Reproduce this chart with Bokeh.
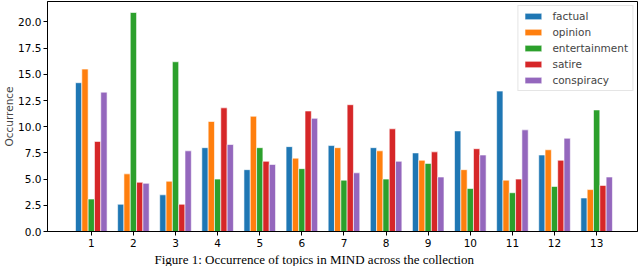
from bokeh.plotting import figure
from bokeh.models import FixedTicker, NumeralTickFormatter, Legend, LegendItem, Title, Range1d
from bokeh.embed import file_html
from bokeh.resources import INLINE

groups = [1, 2, 3, 4, 5, 6, 7, 8, 9, 10, 11, 12, 13]
series_names = ["factual", "opinion", "entertainment", "satire", "conspiracy"]
factual = [14.2, 2.6, 3.5, 8.0, 5.9, 8.1, 8.2, 8.0, 7.5, 9.6, 13.4, 7.3, 3.2]
opinion = [15.5, 5.5, 4.8, 10.5, 11.0, 7.0, 8.0, 7.7, 6.8, 5.9, 4.9, 7.8, 4.0]
entertainment = [3.1, 20.9, 16.2, 5.0, 8.0, 6.0, 4.9, 5.0, 6.5, 4.1, 3.7, 4.3, 11.6]
satire = [8.6, 4.7, 2.6, 11.8, 6.7, 11.5, 12.1, 9.8, 7.6, 7.9, 5.0, 6.8, 4.4]
conspiracy = [13.3, 4.6, 7.7, 8.3, 6.4, 10.8, 5.6, 6.7, 5.2, 7.3, 9.7, 8.9, 5.2]
y_ticks = [0.0, 2.5, 5.0, 7.5, 10.0, 12.5, 15.0, 17.5, 20.0]
caption = "Figure 1: Occurrence of topics in MIND across the collection"

colors = ["#1f77b4", "#ff7f0e", "#2ca02c", "#d62728", "#9467bd"]
values = [factual, opinion, entertainment, satire, conspiracy]
bar_w = 0.15

p = figure(width=640, height=266, output_backend="svg", toolbar_location=None,
           x_range=Range1d(-0.04, 13.97), y_range=Range1d(0, 21.95),
           min_border_left=45, min_border_right=3, min_border_top=1, min_border_bottom=35)
p.styles = {"position": "absolute", "top": "0px", "left": "0px"}
p.xgrid.visible = False
p.ygrid.visible = False
p.outline_line_color = "black"
p.outline_line_width = 1
p.background_fill_color = "white"
p.border_fill_color = "white"

items = []
for i, (name, vals, col) in enumerate(zip(series_names, values, colors)):
    xs = [g + (i - 2) * bar_w for g in groups]
    r = p.vbar(x=xs, top=vals, width=bar_w, bottom=0, fill_color=col,
               line_color="white", line_width=0.6)
    items.append(LegendItem(label=name, renderers=[r]))

for ax in (p.xaxis[0], p.yaxis[0]):
    ax.axis_line_color = "black"
    ax.major_tick_line_color = "black"
    ax.major_tick_out = 4
    ax.major_tick_in = 0
    ax.minor_tick_line_color = None
    ax.major_label_text_font = "DejaVu Sans"
    ax.major_label_text_font_size = "10.5px"
    ax.major_label_text_color = "black"

p.xaxis[0].ticker = FixedTicker(ticks=groups)
p.xaxis[0].major_label_standoff = 3
p.yaxis[0].ticker = FixedTicker(ticks=y_ticks)
p.yaxis[0].formatter = NumeralTickFormatter(format="0.0")
p.yaxis[0].major_label_standoff = 2
p.yaxis[0].axis_label = "Occurrence"
p.yaxis[0].axis_label_text_font = "DejaVu Sans"
p.yaxis[0].axis_label_text_font_size = "10.5px"
p.yaxis[0].axis_label_text_font_style = "normal"
p.yaxis[0].axis_label_standoff = 0

legend = Legend(items=items, location="top_right", margin=4,
                glyph_width=21, glyph_height=8, label_height=12, spacing=4,
                label_standoff=9, padding=4,
                label_text_font="DejaVu Sans", label_text_font_size="10.5px",
                border_line_color="#cccccc", border_line_width=1,
                background_fill_alpha=0.8)
p.add_layout(legend)

cap = Title(text=caption, align="left", offset=107, standoff=0,
            text_font="Liberation Serif", text_font_size="13px",
            text_font_style="normal", text_color="black")
p.add_layout(cap, "below")

html = file_html(p, INLINE)
open("out.html", "w").write(html)
